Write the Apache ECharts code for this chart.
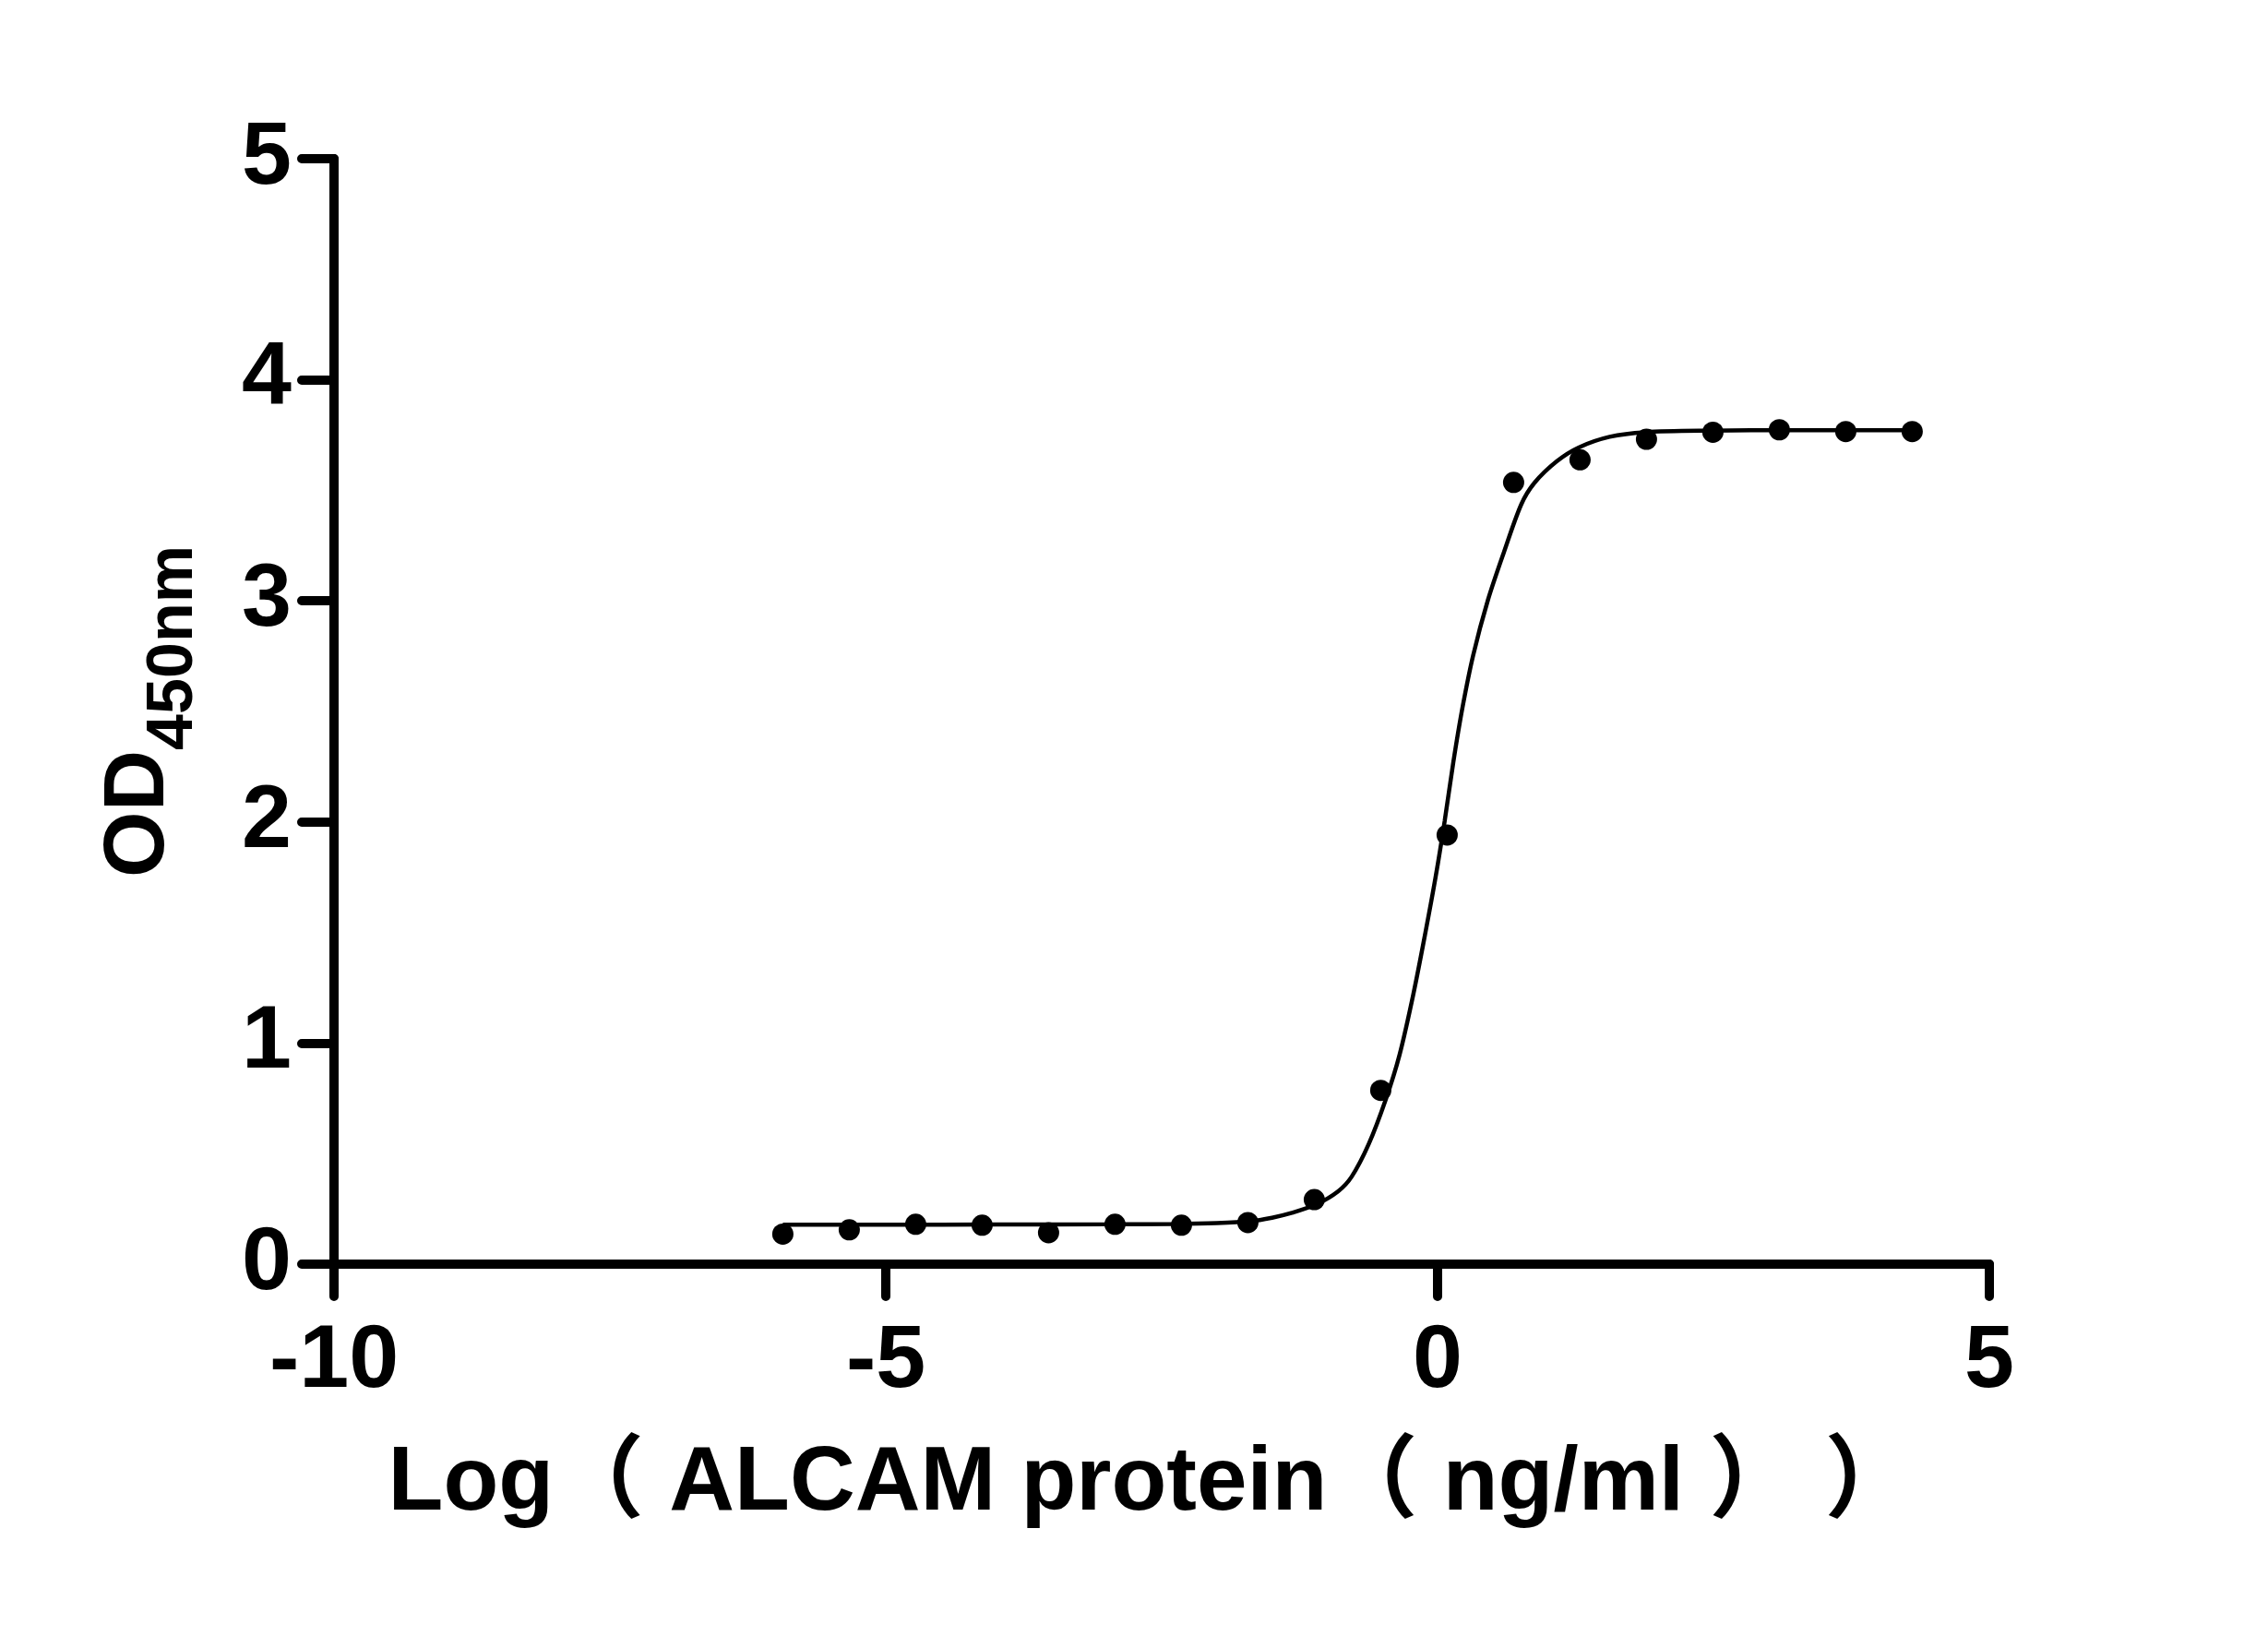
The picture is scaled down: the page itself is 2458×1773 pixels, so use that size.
<!DOCTYPE html>
<html>
<head>
<meta charset="utf-8">
<script src="https://cdn.jsdelivr.net/npm/echarts@6/dist/echarts.min.js"></script>
<style>
  html, body { margin: 0; padding: 0; background: #fff; }
  #chart { width: 2458px; height: 1773px; }
</style>
</head>
<body>
<div id="chart"></div>
<script>
// measured points: log10 concentration (ng/ml) vs OD450
const logConc = [-5.933, -5.331, -4.729, -4.127, -3.525, -2.923, -2.321, -1.719, -1.117,
  -0.515, 0.087, 0.689, 1.291, 1.893, 2.495, 3.097, 3.699, 4.301];
const odValues = [0.136, 0.155, 0.180, 0.176, 0.142, 0.180, 0.176, 0.188, 0.292,
  0.786, 1.941, 3.536, 3.638, 3.731, 3.763, 3.774, 3.766, 3.766];

// fitted curve
const fitX = [-5.933, -5.0, -4.0, -3.0, -2.4, -2.0, -1.7, -1.5, -1.32, -1.1, -0.9, -0.778,
  -0.624, -0.47, -0.345, -0.22, -0.11, -0.017, 0.064, 0.142, 0.226, 0.323, 0.457, 0.597,
  0.758, 0.878, 1.079, 1.279, 1.559, 1.878, 2.478, 3.2, 4.301];
const fitY = [0.178, 0.178, 0.179, 0.180, 0.182, 0.186, 0.194, 0.210, 0.232, 0.270, 0.330, 0.396,
  0.543, 0.744, 0.946, 1.22, 1.50, 1.753, 2.003, 2.268, 2.518, 2.755, 3.005, 3.214,
  3.436, 3.534, 3.631, 3.694, 3.742, 3.763, 3.770, 3.772, 3.772];

const xTicks = { min: -10, max: 5, interval: 5 };
const yTicks = { min: 0, max: 5, interval: 1 };

const chart = echarts.init(document.getElementById('chart'));
const font = "'Liberation Sans', Arial, 'Noto Sans CJK SC', sans-serif";
const axisStyle = { color: '#000', width: 10, cap: 'round' };

chart.setOption({
  animation: false,
  backgroundColor: '#fff',
  grid: { left: 362, right: 302, top: 172, bottom: 403, containLabel: false },
  xAxis: {
    type: 'value',
    min: xTicks.min, max: xTicks.max, interval: xTicks.interval,
    name: 'Log（ ALCAM protein（ ng/ml ） ）',
    nameLocation: 'middle',
    nameGap: 179,
    nameTextStyle: {
      fontFamily: font, fontWeight: 'bold', fontSize: 98, color: '#000',
      lineHeight: 120, padding: [0, 22, 0, 0]
    },
    axisLine: { onZero: false, lineStyle: axisStyle },
    axisTick: { length: 35, lineStyle: axisStyle },
    axisLabel: { margin: 58, fontFamily: font, fontWeight: 'bold', fontSize: 97, color: '#000' },
    splitLine: { show: false }
  },
  yAxis: {
    type: 'value',
    min: yTicks.min, max: yTicks.max, interval: yTicks.interval,
    name: '{od|OD}{sub|450nm}',
    nameLocation: 'middle',
    nameGap: 164,
    nameTextStyle: {
      rich: {
        od: { fontFamily: font, fontWeight: 'bold', fontSize: 92, color: '#000', lineHeight: 92, verticalAlign: 'top' },
        sub: { fontFamily: font, fontWeight: 'bold', fontSize: 70, color: '#000', lineHeight: 70, padding: [48, 0, 0, 0], verticalAlign: 'top' }
      }
    },
    axisLine: { onZero: false, lineStyle: axisStyle },
    axisTick: { length: 35, lineStyle: axisStyle },
    axisLabel: { margin: 46, fontFamily: font, fontWeight: 'bold', fontSize: 97, color: '#000' },
    splitLine: { show: false }
  },
  series: [
    {
      name: 'Fit',
      type: 'line',
      data: fitX.map((x, i) => [x, fitY[i]]),
      showSymbol: false,
      smooth: 0.3,
      lineStyle: { color: '#000', width: 4.5 },
      z: 2
    },
    {
      name: 'OD450',
      type: 'scatter',
      data: logConc.map((x, i) => [x, odValues[i]]),
      symbol: 'circle',
      symbolSize: 23,
      itemStyle: { color: '#000', opacity: 1 },
      z: 3
    }
  ]
});
</script>
</body>
</html>
